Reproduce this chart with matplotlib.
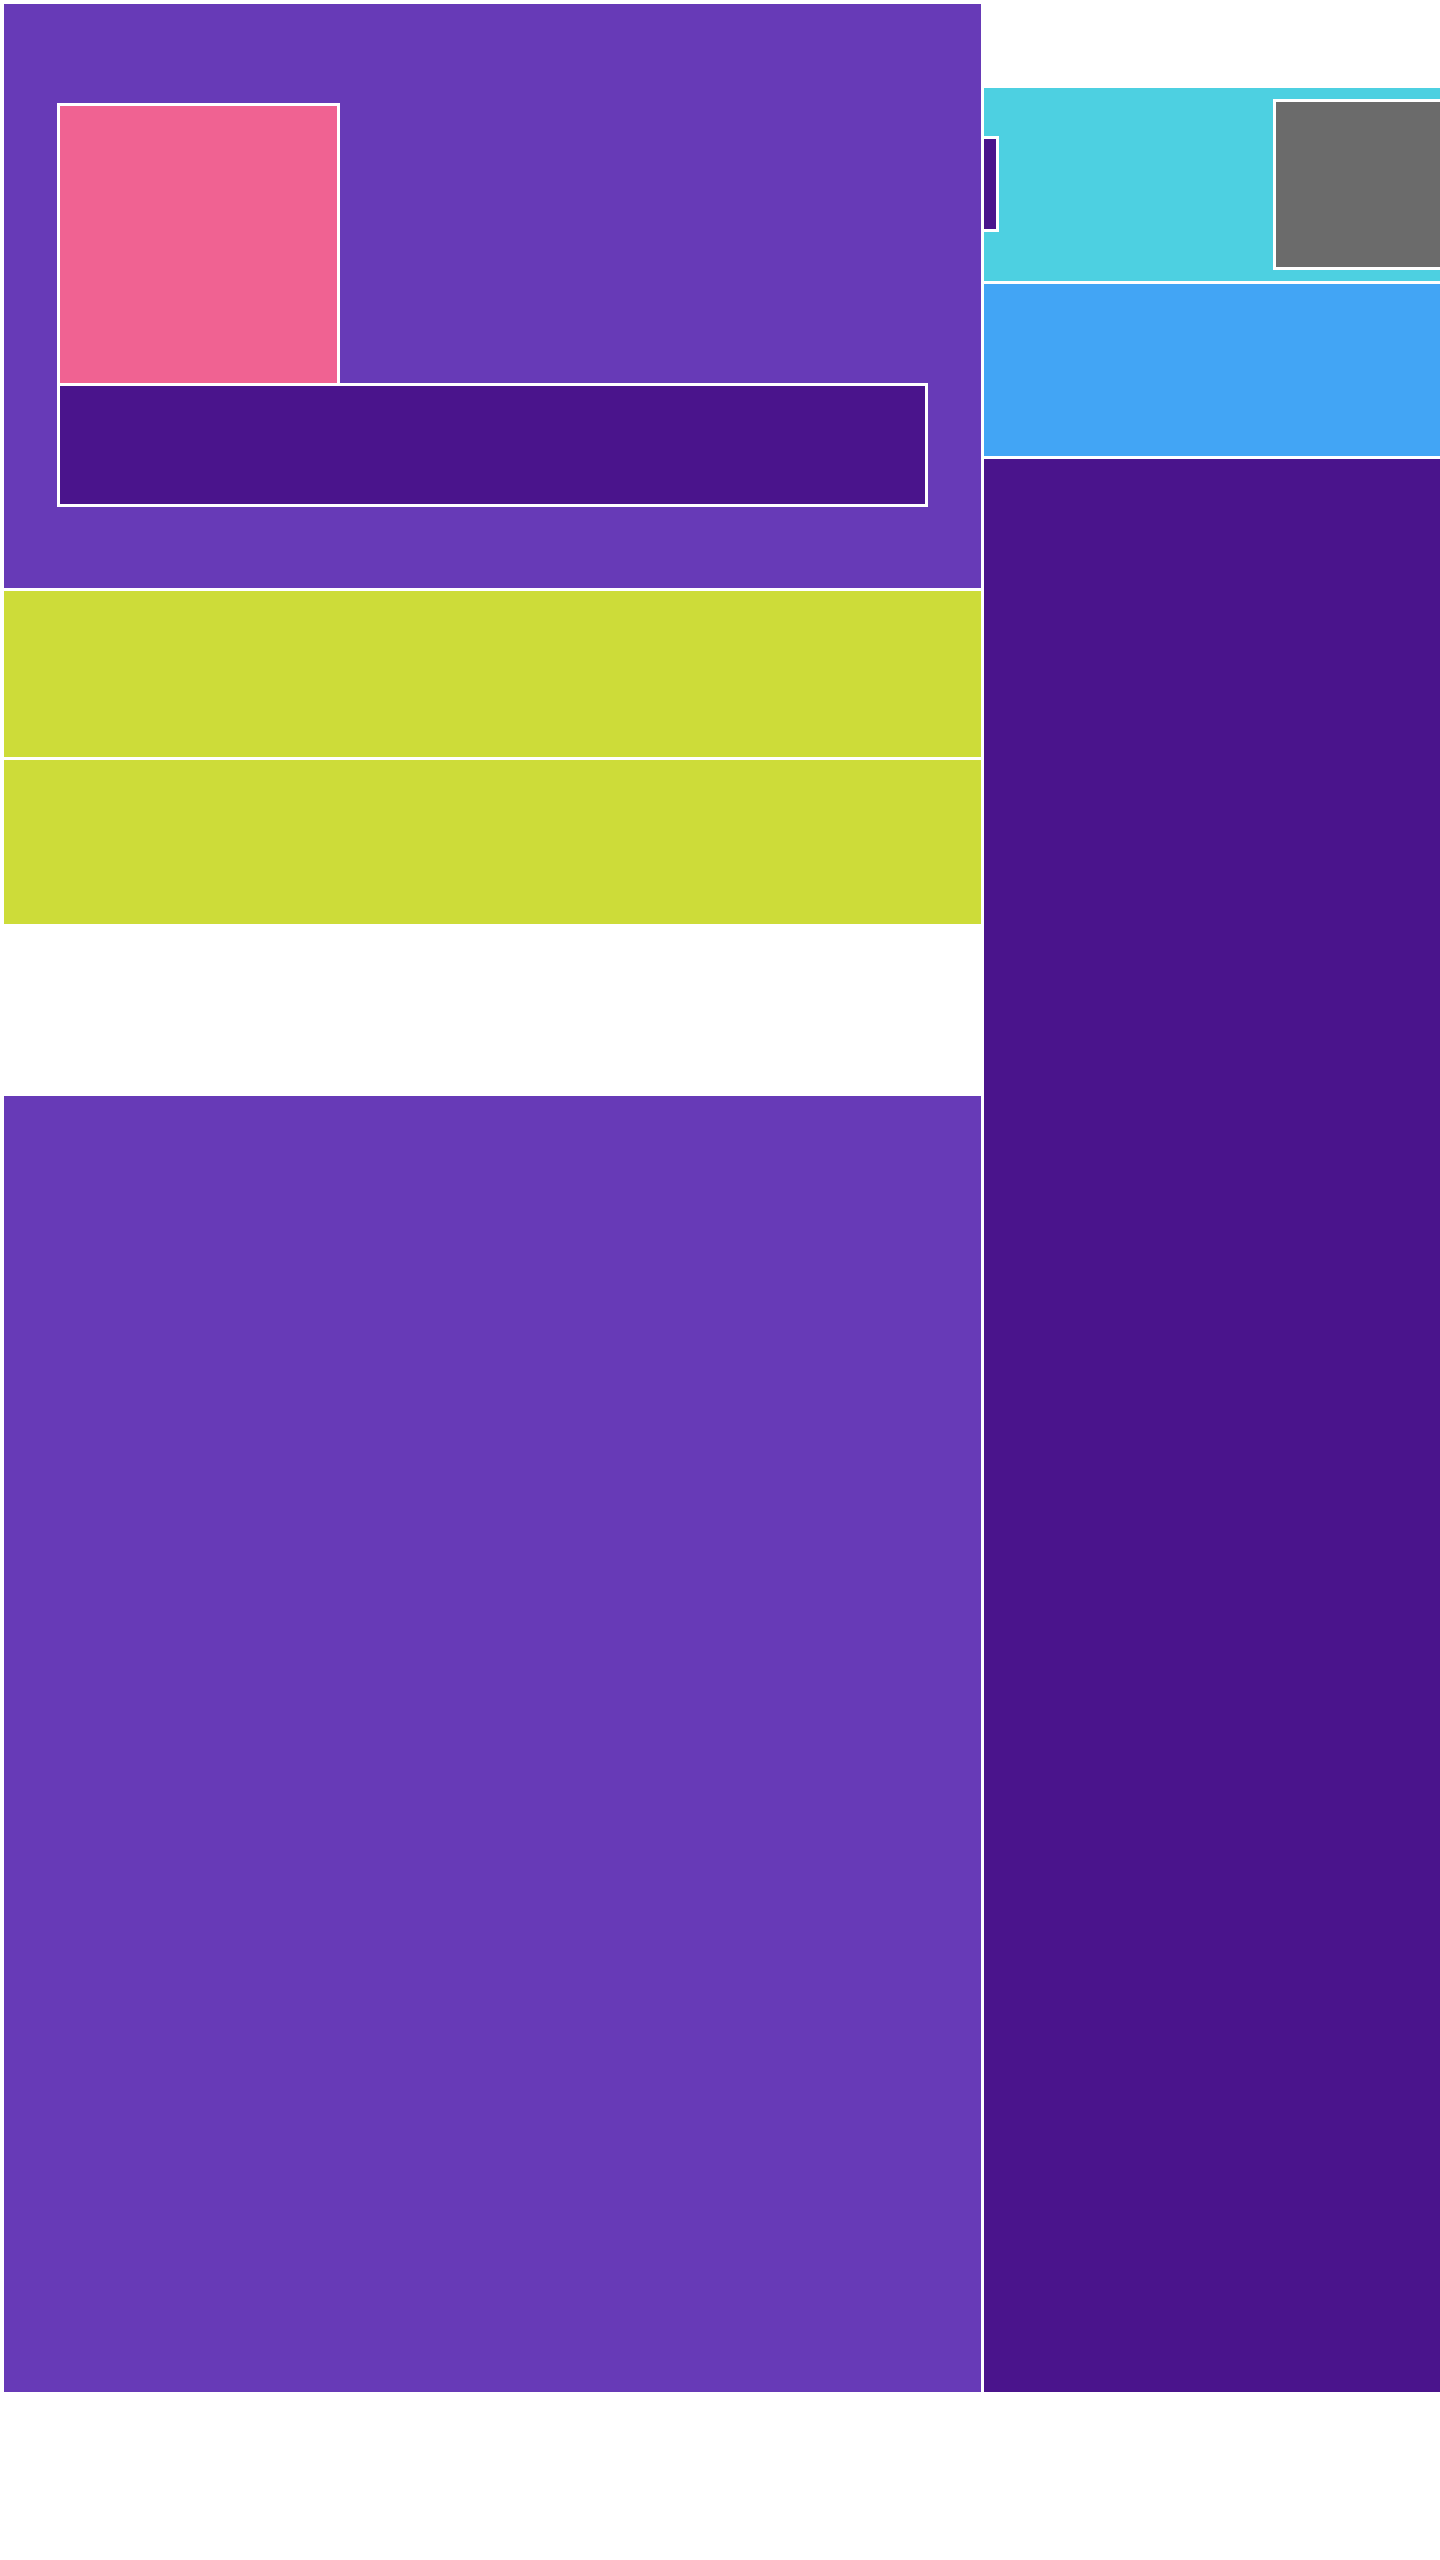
import matplotlib
matplotlib.use("Agg")
import matplotlib.pyplot as plt
from matplotlib.patches import Rectangle

# tile layout (canvas units, origin top-left)
names = ["main", "band_1", "band_2", "lower", "top_right", "mid_right",
         "right_col", "inner_pink", "inner_bar", "sliver", "grey_box"]
x0 = [1.5, 1.5, 1.5, 1.5, 981.5, 981.5, 981.5, 57.5, 57.5, 981.5, 1273.5]
y0 = [1.5, 589.0, 757.5, 1093.5, 85.5, 281.5, 456.5, 103.5, 383.5, 136.5, 99.5]
x1 = [981.5, 981.5, 981.5, 981.5, 1446.0, 1446.0, 1446.0, 337.5, 925.5, 996.5, 1446.0]
y1 = [589.0, 757.5, 925.0, 2393.0, 281.5, 456.5, 2393.0, 383.5, 505.2, 229.5, 267.5]
colors = ["#673AB7", "#CDDC39", "#CDDC39", "#673AB7", "#4DD0E1", "#42A5F5",
          "#4A148C", "#F06292", "#4A148C", "#4A148C", "#6B6B6B"]

W, H = 1440, 2560
fig = plt.figure(figsize=(W / 100, H / 100), dpi=100)
ax = fig.add_axes([0, 0, 1, 1])
ax.set_xlim(0, W)
ax.set_ylim(H, 0)
ax.axis("off")

edge_lw = 3 * 72 / 100  # 3 px white border
for name, a, b, c, d, col in zip(names, x0, y0, x1, y1, colors):
    ax.add_patch(Rectangle((a, b), c - a, d - b, facecolor=col,
                           edgecolor="white", linewidth=edge_lw, label=name))

fig.savefig("out.png", dpi=100, facecolor="white")
